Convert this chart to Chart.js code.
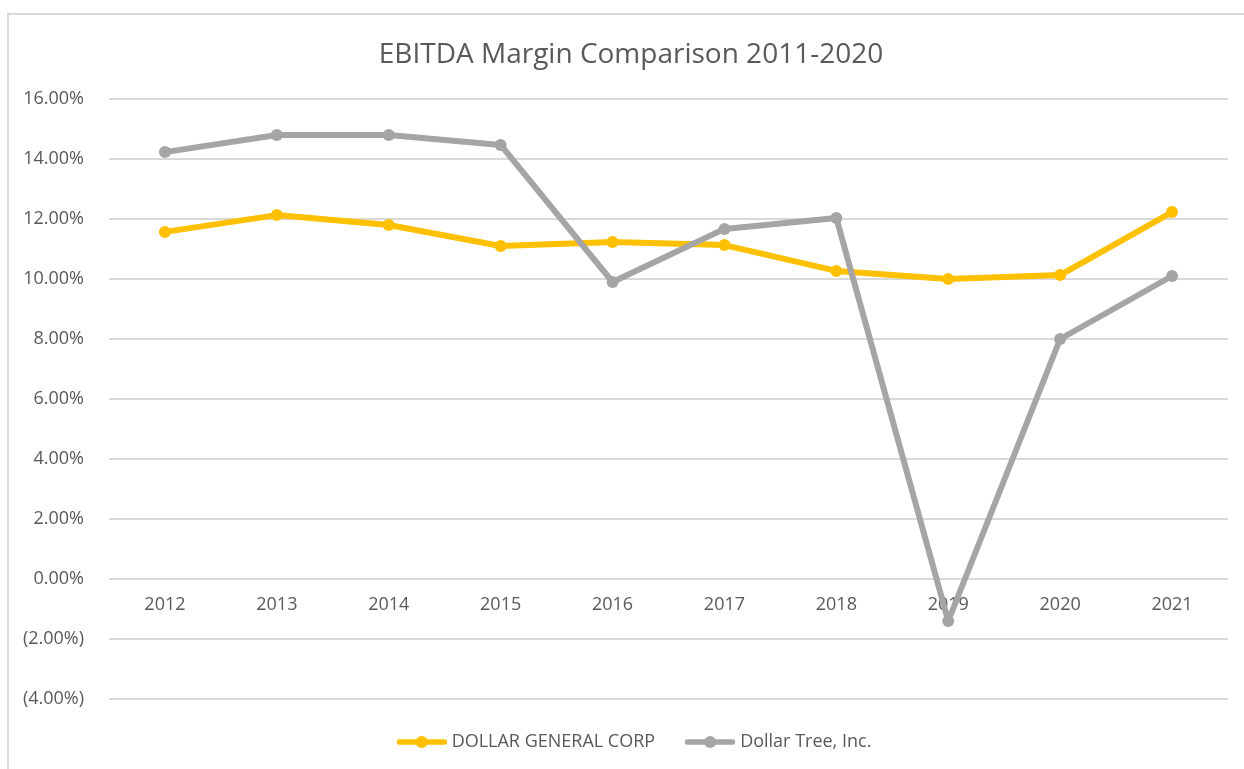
<!DOCTYPE html>
<html>
<head>
<meta charset="utf-8">
<title>EBITDA Margin Comparison</title>
<script src="https://cdn.jsdelivr.net/npm/chart.js@4.4.0/dist/chart.umd.min.js"></script>
<style>
    html, body { margin: 0; padding: 0; background: #fff; overflow: hidden; }
    #frame {
        position: absolute; left: 7px; top: 13px; width: 1300px; height: 800px;
        border-left: 2px solid #d9d9d9; border-top: 2px solid #d9d9d9;
    }
    .chart-container { position: absolute; left: 0; top: 0; width: 1244px; height: 769px; }
</style>
</head>
<body>
<div id="frame"></div>
<div class="chart-container"><canvas id="myChart"></canvas></div>
<script>
// values (percent)
const years = ['2012', '2013', '2014', '2015', '2016', '2017', '2018', '2019', '2020', '2021'];
const dollarGeneral = [11.57, 12.13, 11.80, 11.10, 11.23, 11.13, 10.27, 10.00, 10.13, 12.23];
const dollarTree = [14.23, 14.80, 14.80, 14.47, 9.90, 11.67, 12.03, -1.40, 8.00, 10.10];
const yMin = -4;
const yMax = 16;
const yStep = 2;

const textColor = '#595959';
const fontFamily = "'Open Sans', 'Noto Sans', sans-serif";

// line + dot marker, like the excel legend
function legendMarker(color) {
    const c = document.createElement('canvas');
    c.width = 50;
    c.height = 14;
    const g = c.getContext('2d');
    g.strokeStyle = color;
    g.lineWidth = 5.5;
    g.lineCap = 'round';
    g.beginPath();
    g.moveTo(2.5, 7);
    g.lineTo(47.5, 7);
    g.stroke();
    g.fillStyle = color;
    g.beginPath();
    g.arc(25, 7, 6, 0, Math.PI * 2);
    g.fill();
    return c;
}

function pct(value) {
    const v = Math.abs(value).toFixed(2) + '%';
    return value < 0 ? '(' + v + ')' : v;
}

// the excel chart area runs past the right edge of the picture,
// so title and legend sit a bit right of the canvas centre
const centreShift = {
    id: 'centreShift',
    afterLayout: function(chart) {
        if (chart.titleBlock) {
            chart.titleBlock.left += 17;
            chart.titleBlock.right += 17;
        }
        if (chart.legend) {
            chart.legend.left += 22;
            chart.legend.right += 22;
        }
    }
};

const ctx = document.getElementById('myChart').getContext('2d');
const myChart = new Chart(ctx, {
    type: 'line',
    data: {
        labels: years,
        datasets: [{
            label: 'DOLLAR GENERAL CORP',
            data: dollarGeneral,
            borderColor: '#FFC000',
            backgroundColor: '#FFC000',
            order: 1
        }, {
            label: 'Dollar Tree, Inc.',
            data: dollarTree,
            borderColor: '#A5A5A5',
            backgroundColor: '#A5A5A5',
            order: 0
        }]
    },
    plugins: [centreShift],
    options: {
        responsive: true,
        maintainAspectRatio: false,
        animation: false,
        datasets: {
            line: {
                borderWidth: 6,
                borderJoinStyle: 'round',
                borderCapStyle: 'round',
                pointRadius: 6,
                pointBorderWidth: 0,
                pointHoverRadius: 6,
                tension: 0,
                clip: false
            }
        },
        layout: {
            padding: { left: 0, right: 16, top: 0, bottom: 8 }
        },
        scales: {
            x: {
                position: { y: 0 },
                offset: true,
                grid: { display: false },
                border: { display: false },
                ticks: {
                    color: textColor,
                    font: { family: fontFamily, size: 18 },
                    padding: 7,
                    maxRotation: 0
                },
                afterFit: function(scale) {
                    scale.height = 0;
                }
            },
            y: {
                min: yMin,
                max: yMax,
                grid: {
                    color: '#d9d9d9',
                    lineWidth: 2,
                    drawTicks: false
                },
                border: { display: false },
                ticks: {
                    stepSize: yStep,
                    color: textColor,
                    font: { family: fontFamily, size: 18 },
                    padding: 25,
                    callback: function(value) {
                        return pct(value);
                    }
                },
                afterFit: function(scale) {
                    scale.width = 109;
                }
            }
        },
        plugins: {
            title: {
                display: true,
                text: 'EBITDA Margin Comparison 2011-2020',
                color: textColor,
                font: { family: fontFamily, size: 28, weight: 'normal' },
                padding: { top: 38, bottom: 27.4 }
            },
            legend: {
                position: 'bottom',
                labels: {
                    usePointStyle: true,
                    pointStyleWidth: 42,
                    padding: 34,
                    color: textColor,
                    font: { family: fontFamily, size: 18 },
                    generateLabels: function(chart) {
                        return chart.data.datasets.map(function(ds, i) {
                            return {
                                text: ds.label,
                                pointStyle: legendMarker(ds.borderColor),
                                fillStyle: ds.borderColor,
                                strokeStyle: ds.borderColor,
                                lineWidth: 0,
                                hidden: false,
                                fontColor: textColor,
                                datasetIndex: i
                            };
                        });
                    }
                }
            },
            tooltip: { enabled: false }
        }
    }
});
</script>
</body>
</html>
